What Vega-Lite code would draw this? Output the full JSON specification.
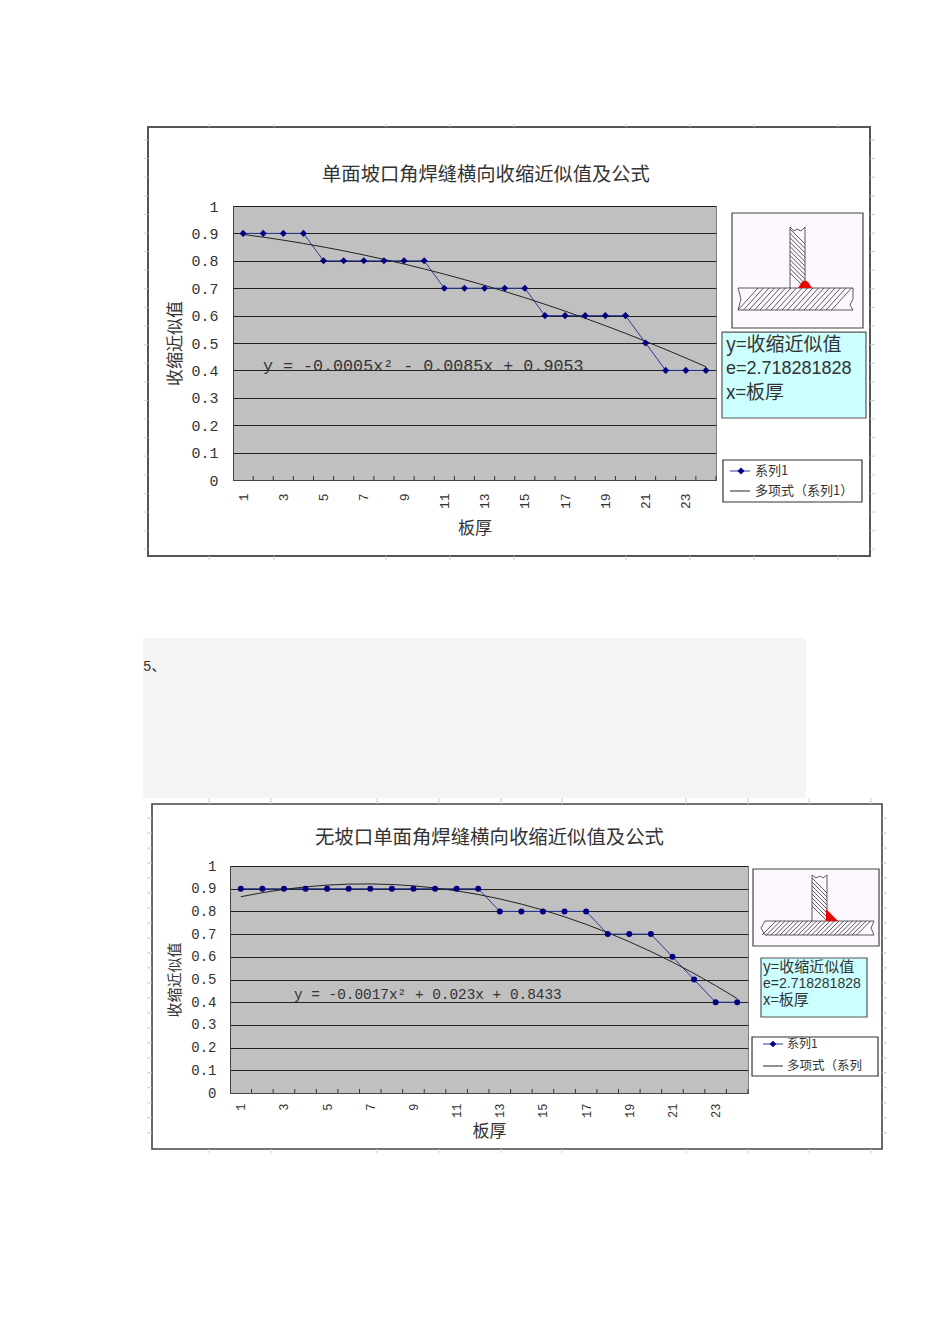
{"$schema":"https://vega.github.io/schema/vega-lite/v6.json","background":"white","padding":{"left":142,"top":123,"right":0,"bottom":0},
"config":{"view":{"fill":"#c0c0c0","stroke":"#808080"},"axis":{"grid":false,"ticks":false,"titleFontWeight":"normal","titleFont":"Noto Sans CJK SC","labelFont":"Liberation Mono","labelColor":"#333","titleColor":"#333"},"text":{"color":"#333","font":"Noto Sans CJK SC"}},
"datasets":{
"d1":[{"x":1,"y":0.9,"trend":0.8963},{"x":2,"y":0.9,"trend":0.8863},{"x":3,"y":0.9,"trend":0.8753},{"x":4,"y":0.9,"trend":0.8633},{"x":5,"y":0.8,"trend":0.8503},{"x":6,"y":0.8,"trend":0.8363},{"x":7,"y":0.8,"trend":0.8213},{"x":8,"y":0.8,"trend":0.8053},{"x":9,"y":0.8,"trend":0.7883},{"x":10,"y":0.8,"trend":0.7703},{"x":11,"y":0.7,"trend":0.7513},{"x":12,"y":0.7,"trend":0.7313},{"x":13,"y":0.7,"trend":0.7103},{"x":14,"y":0.7,"trend":0.6883},{"x":15,"y":0.7,"trend":0.6653},{"x":16,"y":0.6,"trend":0.6413},{"x":17,"y":0.6,"trend":0.6163},{"x":18,"y":0.6,"trend":0.5903},{"x":19,"y":0.6,"trend":0.5633},{"x":20,"y":0.6,"trend":0.5353},{"x":21,"y":0.5,"trend":0.5063},{"x":22,"y":0.4,"trend":0.4763},{"x":23,"y":0.4,"trend":0.4453},{"x":24,"y":0.4,"trend":0.4133}],
"d2":[{"x":1,"y":0.9,"trend":0.8646},{"x":2,"y":0.9,"trend":0.8825},{"x":3,"y":0.9,"trend":0.897},{"x":4,"y":0.9,"trend":0.9081},{"x":5,"y":0.9,"trend":0.9158},{"x":6,"y":0.9,"trend":0.9201},{"x":7,"y":0.9,"trend":0.921},{"x":8,"y":0.9,"trend":0.9185},{"x":9,"y":0.9,"trend":0.9126},{"x":10,"y":0.9,"trend":0.9033},{"x":11,"y":0.9,"trend":0.8906},{"x":12,"y":0.9,"trend":0.8745},{"x":13,"y":0.8,"trend":0.855},{"x":14,"y":0.8,"trend":0.8321},{"x":15,"y":0.8,"trend":0.8058},{"x":16,"y":0.8,"trend":0.7761},{"x":17,"y":0.8,"trend":0.743},{"x":18,"y":0.7,"trend":0.7065},{"x":19,"y":0.7,"trend":0.6666},{"x":20,"y":0.7,"trend":0.6233},{"x":21,"y":0.6,"trend":0.5766},{"x":22,"y":0.5,"trend":0.5265},{"x":23,"y":0.4,"trend":0.473},{"x":24,"y":0.4,"trend":0.4161}],
"edges":[{"e":1.5},{"e":2.5},{"e":3.5},{"e":4.5},{"e":5.5},{"e":6.5},{"e":7.5},{"e":8.5},{"e":9.5},{"e":10.5},{"e":11.5},{"e":12.5},{"e":13.5},{"e":14.5},{"e":15.5},{"e":16.5},{"e":17.5},{"e":18.5},{"e":19.5},{"e":20.5},{"e":21.5},{"e":22.5},{"e":23.5},{"e":24.5}],
"cols1":[{"c":-0.69},{"c":2.54},{"c":8.1},{"c":11.28},{"c":14.46},{"c":20.03},{"c":23.21},{"c":26.39},{"c":30.56}],
"rows1":[{"r":1.241},{"r":1.173},{"r":1.105},{"r":1.037},{"r":0.969},{"r":0.901},{"r":0.834},{"r":0.766},{"r":0.698},{"r":0.63},{"r":0.562},{"r":0.494},{"r":0.426},{"r":0.358},{"r":0.29},{"r":0.223},{"r":0.155},{"r":0.087},{"r":0.019},{"r":-0.049},{"r":-0.117},{"r":-0.185},{"r":-0.252}],
"cols2":[{"c":-0.47},{"c":2.4},{"c":7.31},{"c":10.18},{"c":13.06},{"c":15.88},{"c":21.63},{"c":24.5},{"c":27.33},{"c":30.2}],
"rows2":[{"r":1.211},{"r":1.145},{"r":1.079},{"r":1.013},{"r":0.947},{"r":0.881},{"r":0.815},{"r":0.749},{"r":0.683},{"r":0.617},{"r":0.551},{"r":0.485},{"r":0.419},{"r":0.353},{"r":0.287},{"r":0.221},{"r":0.155},{"r":0.089},{"r":0.023},{"r":-0.043},{"r":-0.109},{"r":-0.175}],
"one":[{"n":1}]
},
"spacing":660,"bounds":"flush",
"vconcat":[
{"spacing":0,"bounds":"flush","hconcat":[
{"width":3,"height":274,"view":{"fill":null,"stroke":null},"data":{"name":"one"},"mark":{"type":"text","text":""},"encoding":{}},
{"width":483,"height":274,
"layer":[
{"data":{"name":"one"},"mark":{"type":"rect","fill":null,"stroke":"#555","strokeWidth":2},"encoding":{"x":{"datum":-3.724},"x2":{"datum":32.152},"y":{"datum":1.288},"y2":{"datum":-0.277}}},
{"data":{"name":"cols1"},"mark":{"type":"rule","stroke":"#ccc"},"encoding":{"x":{"field":"c","type":"quantitative"},"y":{"datum":1.299},"y2":{"datum":1.288}}},
{"data":{"name":"cols1"},"mark":{"type":"rule","stroke":"#ccc"},"encoding":{"x":{"field":"c","type":"quantitative"},"y":{"datum":-0.277},"y2":{"datum":-0.292}}},
{"data":{"name":"rows1"},"mark":{"type":"rule","stroke":"#ccc"},"encoding":{"y":{"field":"r","type":"quantitative"},"x":{"datum":-3.92},"x2":{"datum":-3.724}}},
{"data":{"name":"rows1"},"mark":{"type":"rule","stroke":"#ccc"},"encoding":{"y":{"field":"r","type":"quantitative"},"x":{"datum":32.152},"x2":{"datum":32.4}}},
{"data":{"name":"edges"},"mark":{"type":"rule","stroke":"#333"},"encoding":{"x":{"field":"e","type":"quantitative"},"y":{"datum":0},"y2":{"datum":0.0146}}},
{"data":{"name":"d1"},"mark":{"type":"line","stroke":"#2b3a9e","strokeWidth":1},"encoding":{"x":{"field":"x","type":"quantitative","scale":{"domain":[0.5,24.5],"nice":false,"zero":false},"axis":{"title":"板厚","titleFontSize":17,"titlePadding":12,"values":[1,3,5,7,9,11,13,15,17,19,21,23],"labelAngle":270,"labelFontSize":13,"labelPadding":13,"labelFlush":false,"labelOverlap":false,"domainColor":"#444","format":"d"}},
"y":{"field":"y","type":"quantitative","scale":{"domain":[0,1],"nice":false,"zero":false},"axis":{"title":"收缩近似值","titleFontSize":17,"titlePadding":6,"values":[0,0.1,0.2,0.3,0.4,0.5,0.6,0.7,0.8,0.9,1],"tickCount":11,"labelOverlap":false,"format":".1~f","labelFontSize":15,"labelPadding":15,"grid":true,"gridColor":"#222","gridWidth":1,"domainColor":"#444"}}}},
{"data":{"name":"d1"},"mark":{"type":"line","stroke":"#222","strokeWidth":1},"encoding":{"x":{"field":"x","type":"quantitative"},"y":{"field":"trend","type":"quantitative"}}},
{"data":{"name":"d1"},"mark":{"type":"point","shape":"diamond","filled":true,"size":50,"fill":"#000080","opacity":1},"encoding":{"x":{"field":"x","type":"quantitative"},"y":{"field":"y","type":"quantitative"}}},
{"data":{"values":[{"t":"单面坡口角焊缝横向收缩近似值及公式"}]},"mark":{"type":"text","fontSize":19.3,"align":"center","baseline":"middle"},"encoding":{"x":{"datum":13.07},"y":{"datum":1.113},"text":{"field":"t"}}},
{"data":{"values":[{"t":"y = -0.0005x² - 0.0085x + 0.9053"}]},"mark":{"type":"text","font":"Liberation Mono","fontSize":16.7,"align":"left","baseline":"alphabetic"},"encoding":{"x":{"datum":1.99},"y":{"datum":0.398},"text":{"field":"t"}}},
{"data":{"name":"one"},"mark":{"type":"rect","fill":"#fdf8ff","stroke":"#444","strokeWidth":1.2},"encoding":{"x":{"datum":25.295},"x2":{"datum":31.804},"y":{"datum":0.9745},"y2":{"datum":0.5547}}},
{"data":{"name":"one"},"mark":{"type":"point","size":400,"opacity":1,"filled":false,"stroke":"#333","strokeWidth":0.8,"shape":"M-5.9 -.2H5.6V.9L5.3 1.5 5.6 2H-5.9L-5.6 .9ZM-5.9 2l2 -2.2M-5.35 2l2 -2.2M-4.8 2l2 -2.2M-4.25 2l2 -2.2M-3.7 2l2 -2.2M-3.15 2l2 -2.2M-2.6 2l2 -2.2M-2.05 2l2 -2.2M-1.5 2l2 -2.2M-.95 2l2 -2.2M-.4 2l2 -2.2M.15 2l2 -2.2M.7 2l2 -2.2M1.25 2l2 -2.2M1.8 2l2 -2.2M2.35 2l2 -2.2M2.9 2l2 -2.2M3.45 2l2 -2.2M-.7 -.2V-6.3L-.3 -5.9 0 -6.1 .4 -5.9 .8 -6.3V-.2M-.7 -6.1l1.5 1.5M-.7 -5.66l1.5 1.5M-.7 -5.22l1.5 1.5M-.7 -4.78l1.5 1.5M-.7 -4.34l1.5 1.5M-.7 -3.9l1.5 1.5M-.7 -3.46l1.5 1.5M-.7 -3.02l1.5 1.5M-.7 -2.58l1.5 1.5M-.7 -2.14l1.5 1.5M-.7 -1.7l1.5 1.5"},"encoding":{"x":{"datum":28.525},"y":{"datum":0.6934}}},
{"data":{"name":"one"},"mark":{"type":"point","size":400,"opacity":1,"filled":true,"fill":"#ee0000","shape":"M.1 -.2L.5 -.8Q.8 -1.1 1.1 -.8L1.5 -.2Z"},"encoding":{"x":{"datum":28.525},"y":{"datum":0.6934}}},
{"data":{"name":"one"},"mark":{"type":"rect","fill":"#ccffff","stroke":"#555","strokeWidth":1.2},"encoding":{"x":{"datum":24.798},"x2":{"datum":31.953},"y":{"datum":0.54},"y2":{"datum":0.2263}}},
{"data":{"values":[{"t":"y=收缩近似值"}]},"mark":{"type":"text","fontSize":19,"align":"left","baseline":"middle"},"encoding":{"x":{"datum":24.997},"y":{"datum":0.4927},"text":{"field":"t"}}},
{"data":{"values":[{"t":"e=2.718281828"}]},"mark":{"type":"text","font":"Liberation Sans","fontSize":18,"align":"left","baseline":"middle"},"encoding":{"x":{"datum":24.997},"y":{"datum":0.4051},"text":{"field":"t"}}},
{"data":{"values":[{"t":"x=板厚"}]},"mark":{"type":"text","fontSize":19,"align":"left","baseline":"middle"},"encoding":{"x":{"datum":24.997},"y":{"datum":0.3175},"text":{"field":"t"}}},
{"data":{"name":"one"},"mark":{"type":"rect","fill":"white","stroke":"#333","strokeWidth":1.2},"encoding":{"x":{"datum":24.847},"x2":{"datum":31.754},"y":{"datum":0.073},"y2":{"datum":-0.0803}}},
{"data":{"name":"one"},"mark":{"type":"rule","stroke":"#2b3a9e"},"encoding":{"x":{"datum":25.196},"x2":{"datum":26.19},"y":{"datum":0.0328}}},
{"data":{"name":"one"},"mark":{"type":"point","shape":"diamond","filled":true,"size":50,"fill":"#000080","opacity":1},"encoding":{"x":{"datum":25.742},"y":{"datum":0.0328}}},
{"data":{"name":"one"},"mark":{"type":"rule","stroke":"#222"},"encoding":{"x":{"datum":25.196},"x2":{"datum":26.19},"y":{"datum":-0.0401}}},
{"data":{"values":[{"t":"系列1"}]},"mark":{"type":"text","fontSize":13,"align":"left","baseline":"middle"},"encoding":{"x":{"datum":26.438},"y":{"datum":0.0328},"text":{"field":"t"}}},
{"data":{"values":[{"t":"多项式（系列1）"}]},"mark":{"type":"text","fontSize":13,"align":"left","baseline":"middle"},"encoding":{"x":{"datum":26.438},"y":{"datum":-0.0401},"text":{"field":"t"}}}
]}
]},
{"width":518,"height":227,
"layer":[
{"data":{"name":"one"},"mark":{"type":"rect","fill":"#f5f5f5"},"encoding":{"x":{"datum":-3.531},"x2":{"datum":27.188},"y":{"datum":2.0044},"y2":{"datum":1.2996}}},
{"data":{"values":[{"t":"5、"}]},"mark":{"type":"text","font":"Liberation Mono, Noto Sans CJK SC","fontSize":14,"align":"left","baseline":"middle"},"encoding":{"x":{"datum":-3.531},"y":{"datum":1.8767},"text":{"field":"t"}}},
{"data":{"name":"one"},"mark":{"type":"rect","fill":null,"stroke":"#444","strokeWidth":1.6},"encoding":{"x":{"datum":-3.114},"x2":{"datum":30.709},"y":{"datum":1.2731},"y2":{"datum":-0.2467}}},
{"data":{"name":"cols2"},"mark":{"type":"rule","stroke":"#ccc"},"encoding":{"x":{"field":"c","type":"quantitative"},"y":{"datum":1.2996},"y2":{"datum":1.2731}}},
{"data":{"name":"cols2"},"mark":{"type":"rule","stroke":"#ccc"},"encoding":{"x":{"field":"c","type":"quantitative"},"y":{"datum":-0.2467},"y2":{"datum":-0.2643}}},
{"data":{"name":"rows2"},"mark":{"type":"rule","stroke":"#ccc"},"encoding":{"y":{"field":"r","type":"quantitative"},"x":{"datum":-3.346},"x2":{"datum":-3.114}}},
{"data":{"name":"rows2"},"mark":{"type":"rule","stroke":"#ccc"},"encoding":{"y":{"field":"r","type":"quantitative"},"x":{"datum":30.709},"x2":{"datum":30.94}}},
{"data":{"name":"edges"},"mark":{"type":"rule","stroke":"#333"},"encoding":{"x":{"field":"e","type":"quantitative"},"y":{"datum":0},"y2":{"datum":0.0176}}},
{"data":{"name":"d2"},"mark":{"type":"line","stroke":"#2b3a9e","strokeWidth":1},"encoding":{"x":{"field":"x","type":"quantitative","scale":{"domain":[0.5,24.5],"nice":false,"zero":false},"axis":{"title":"板厚","titleFontSize":17,"titlePadding":6,"values":[1,3,5,7,9,11,13,15,17,19,21,23],"labelAngle":270,"labelFontSize":12,"labelPadding":10,"labelFlush":false,"labelOverlap":false,"domainColor":"#444","format":"d"}},
"y":{"field":"y","type":"quantitative","scale":{"domain":[0,1],"nice":false,"zero":false},"axis":{"title":"收缩近似值","titleFontSize":15,"titlePadding":8,"values":[0,0.1,0.2,0.3,0.4,0.5,0.6,0.7,0.8,0.9,1],"tickCount":11,"labelOverlap":false,"format":".1~f","labelFontSize":14,"labelPadding":14,"grid":true,"gridColor":"#222","gridWidth":1,"domainColor":"#444"}}}},
{"data":{"name":"d2"},"mark":{"type":"line","stroke":"#222","strokeWidth":1},"encoding":{"x":{"field":"x","type":"quantitative"},"y":{"field":"trend","type":"quantitative"}}},
{"data":{"name":"d2"},"mark":{"type":"point","shape":"circle","filled":true,"size":36,"fill":"#000080","opacity":1},"encoding":{"x":{"field":"x","type":"quantitative"},"y":{"field":"y","type":"quantitative"}}},
{"data":{"values":[{"t":"无坡口单面角焊缝横向收缩近似值及公式"}]},"mark":{"type":"text","fontSize":19.4,"align":"center","baseline":"middle"},"encoding":{"x":{"datum":12.523},"y":{"datum":1.1233},"text":{"field":"t"}}},
{"data":{"values":[{"t":"y = -0.0017x² + 0.023x + 0.8433"}]},"mark":{"type":"text","font":"Liberation Mono","fontSize":14.4,"align":"left","baseline":"alphabetic"},"encoding":{"x":{"datum":3.465},"y":{"datum":0.4141},"text":{"field":"t"}}},
{"data":{"name":"one"},"mark":{"type":"rect","fill":"#fdf8ff","stroke":"#444","strokeWidth":1.2},"encoding":{"x":{"datum":24.732},"x2":{"datum":30.57},"y":{"datum":0.9868},"y2":{"datum":0.6476}}},
{"data":{"name":"one"},"mark":{"type":"point","size":400,"opacity":1,"filled":false,"stroke":"#333","strokeWidth":0.8,"shape":"M-5.4 0H5.5L5.2 .7 5.5 1.4H-5.4L-5.8 .7ZM-5.7 1.4l1.4 -1.4M-5.25 1.4l1.4 -1.4M-4.8 1.4l1.4 -1.4M-4.35 1.4l1.4 -1.4M-3.9 1.4l1.4 -1.4M-3.45 1.4l1.4 -1.4M-3 1.4l1.4 -1.4M-2.55 1.4l1.4 -1.4M-2.1 1.4l1.4 -1.4M-1.65 1.4l1.4 -1.4M-1.2 1.4l1.4 -1.4M-.75 1.4l1.4 -1.4M-.3 1.4l1.4 -1.4M.15 1.4l1.4 -1.4M.6 1.4l1.4 -1.4M1.05 1.4l1.4 -1.4M1.5 1.4l1.4 -1.4M1.95 1.4l1.4 -1.4M2.4 1.4l1.4 -1.4M2.85 1.4l1.4 -1.4M3.3 1.4l1.4 -1.4M3.75 1.4l1.4 -1.4M-.7 0V-4.6L-.3 -4.3 .1 -4.5 .4 -4.3 .8 -4.6V0M-.7 -4.3l1.5 1.5M-.7 -3.9l1.5 1.5M-.7 -3.5l1.5 1.5M-.7 -3.1l1.5 1.5M-.7 -2.7l1.5 1.5M-.7 -2.3l1.5 1.5M-.7 -1.9l1.5 1.5M-.7 -1.5l1.5 1.5"},"encoding":{"x":{"datum":27.791},"y":{"datum":0.7577}}},
{"data":{"name":"one"},"mark":{"type":"point","size":400,"opacity":1,"filled":true,"fill":"#ee0000","shape":"M.7 0V-1.2L1.9 0Z"},"encoding":{"x":{"datum":27.791},"y":{"datum":0.7577}}},
{"data":{"name":"one"},"mark":{"type":"rect","fill":"#ccffff","stroke":"#555","strokeWidth":1.2},"encoding":{"x":{"datum":25.103},"x2":{"datum":30.014},"y":{"datum":0.5947},"y2":{"datum":0.3348}}},
{"data":{"values":[{"t":"y=收缩近似值"}]},"mark":{"type":"text","fontSize":15,"align":"left","baseline":"middle"},"encoding":{"x":{"datum":25.196},"y":{"datum":0.5551},"text":{"field":"t"}}},
{"data":{"values":[{"t":"e=2.718281828"}]},"mark":{"type":"text","font":"Liberation Sans","fontSize":14,"align":"left","baseline":"middle"},"encoding":{"x":{"datum":25.196},"y":{"datum":0.4802},"text":{"field":"t"}}},
{"data":{"values":[{"t":"x=板厚"}]},"mark":{"type":"text","fontSize":15,"align":"left","baseline":"middle"},"encoding":{"x":{"datum":25.196},"y":{"datum":0.4097},"text":{"field":"t"}}},
{"data":{"name":"one"},"mark":{"type":"rect","fill":"white","stroke":"#333","strokeWidth":1.2},"encoding":{"x":{"datum":24.686},"x2":{"datum":30.524},"y":{"datum":0.2467},"y2":{"datum":0.0749}}},
{"data":{"name":"one"},"mark":{"type":"rule","stroke":"#2b3a9e"},"encoding":{"x":{"datum":25.196},"x2":{"datum":26.123},"y":{"datum":0.2159}}},
{"data":{"name":"one"},"mark":{"type":"point","shape":"diamond","filled":true,"size":45,"fill":"#000080","opacity":1},"encoding":{"x":{"datum":25.659},"y":{"datum":0.2159}}},
{"data":{"name":"one"},"mark":{"type":"rule","stroke":"#222"},"encoding":{"x":{"datum":25.196},"x2":{"datum":26.123},"y":{"datum":0.1189}}},
{"data":{"values":[{"t":"系列1"}]},"mark":{"type":"text","fontSize":12,"align":"left","baseline":"middle"},"encoding":{"x":{"datum":26.308},"y":{"datum":0.2159},"text":{"field":"t"}}},
{"data":{"values":[{"t":"多项式（系列"}]},"mark":{"type":"text","fontSize":12.5,"align":"left","baseline":"middle"},"encoding":{"x":{"datum":26.308},"y":{"datum":0.1189},"text":{"field":"t"}}}
]}
]}
